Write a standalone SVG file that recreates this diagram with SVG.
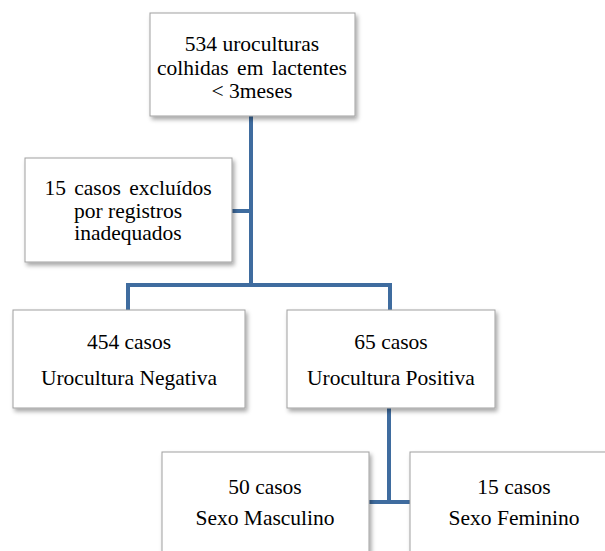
<svg xmlns="http://www.w3.org/2000/svg" width="605" height="551" viewBox="0 0 605 551">
<defs>
<filter id="sh" x="-10%" y="-10%" width="130%" height="130%">
<feDropShadow dx="2" dy="3" stdDeviation="2" flood-color="#000" flood-opacity="0.35"/>
</filter>
<style>
.box{fill:#fff;stroke:#a0a0a0;stroke-width:1;filter:url(#sh)}
.t{font-size:21.5px;fill:#000;text-anchor:middle}
.w{word-spacing:3px}
.c{fill:none;stroke:#3f6c9f;stroke-width:4}
</style>
</defs>
<rect width="605" height="551" fill="#fff"/>
<g id="connectors">
<path class="c" d="M251 116 V285"/>
<path class="c" d="M232 211 H251"/>
<path class="c" d="M128 310 V285 H390 V310"/>
<path class="c" d="M389 408 V502"/>
<path class="c" d="M369 502 H410"/>
</g>
<g font-family="Liberation Serif, DejaVu Serif, serif">
<g id="n1">
<rect class="box" x="150" y="13" width="205" height="103"/>
<text class="t" x="252" y="51">534 uroculturas</text>
<text class="t w" x="252" y="75">colhidas em lactentes</text>
<text class="t" x="252" y="98">&lt; 3meses</text>
</g>
<g id="n2">
<rect class="box" x="25" y="158" width="207" height="104"/>
<text class="t w" x="128" y="195">15 casos excluídos</text>
<text class="t" x="128" y="218">por registros</text>
<text class="t" x="128" y="240">inadequados</text>
</g>
<g id="n3">
<rect class="box" x="13" y="310" width="232" height="98"/>
<text class="t" x="129" y="349">454 casos</text>
<text class="t" x="129" y="385">Urocultura Negativa</text>
</g>
<g id="n4">
<rect class="box" x="287" y="310" width="208" height="98"/>
<text class="t" x="391" y="349">65 casos</text>
<text class="t" x="391" y="385">Urocultura Positiva</text>
</g>
<g id="n5">
<rect class="box" x="162" y="452" width="207" height="110"/>
<text class="t" x="265" y="494">50 casos</text>
<text class="t" x="265" y="525">Sexo Masculino</text>
</g>
<g id="n6">
<rect class="box" x="410" y="452" width="208" height="110"/>
<text class="t" x="514" y="494">15 casos</text>
<text class="t" x="514" y="525">Sexo Feminino</text>
</g>
</g>
</svg>
